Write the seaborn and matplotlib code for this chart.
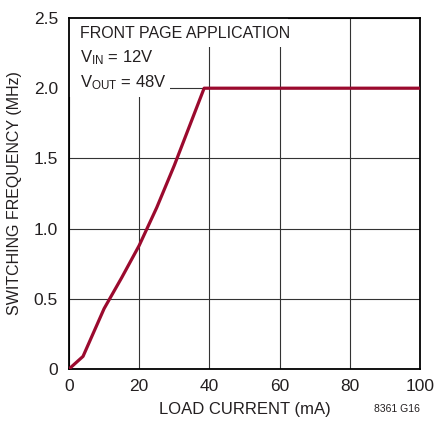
import pandas as pd
import matplotlib
matplotlib.use("Agg")
import matplotlib.pyplot as plt
from matplotlib.patches import Rectangle
import seaborn as sns

# data
load_ma = [0, 4, 10, 15, 20, 25, 30, 38.5, 100]
freq_mhz = [0, 0.09, 0.43, 0.65, 0.88, 1.15, 1.45, 2.0, 2.0]

x_ticks = [0, 20, 40, 60, 80, 100]
y_ticks = [0, 0.5, 1.0, 1.5, 2.0, 2.5]
y_tick_labels = ["0", "0.5", "1.0", "1.5", "2.0", "2.5"]

df = pd.DataFrame({"load": load_ma, "freq": freq_mhz})

sns.set_style("white")
plt.rcParams["font.family"] = ["Liberation Sans", "DejaVu Sans"]
plt.rcParams["mathtext.fontset"] = "custom"
plt.rcParams["mathtext.rm"] = "Liberation Sans"
plt.rcParams["mathtext.it"] = "Liberation Sans"

txt = "#231f20"

fig = plt.figure(figsize=(4.35, 4.36), dpi=100)
ax = fig.add_axes([69 / 435, 67 / 436, 351 / 435, 351 / 436])

sns.lineplot(data=df, x="load", y="freq", ax=ax, color="#9b0a2e",
             linewidth=2.3, zorder=4)

ax.set_xlim(0, 100)
ax.set_ylim(0, 2.5)
ax.set_xticks(x_ticks)
ax.set_yticks(y_ticks)
ax.set_yticklabels(y_tick_labels)
ax.tick_params(length=0, labelsize=12.5, colors=txt)
ax.tick_params(axis="x", pad=7)
ax.tick_params(axis="y", pad=8)
ax.grid(True, color="#333333", linewidth=0.8)
ax.set_axisbelow(True)
for s in ax.spines.values():
    s.set_color("black")
    s.set_linewidth(1.3)

ax.set_xlabel("LOAD CURRENT (mA)", fontsize=12, color=txt, labelpad=6)
ax.set_ylabel("SWITCHING FREQUENCY (MHz)", fontsize=11.5, color=txt, labelpad=8)

# white background behind the note, hiding the grid
ax.add_patch(Rectangle((0, 1.94), 28.8, 0.56, facecolor="white",
                       edgecolor="none", zorder=2))
ax.add_patch(Rectangle((0, 2.29), 62.3, 0.21, facecolor="white",
                       edgecolor="none", zorder=2))

ax.text(3.2, 2.39, "FRONT PAGE APPLICATION", fontsize=11.5, color=txt,
        va="center", ha="left", zorder=3)
ax.text(3.2, 2.215, r"V$_{\mathrm{IN}}$ = 12V", fontsize=12, color=txt,
        va="center", ha="left", zorder=3)
ax.text(3.2, 2.04, r"V$_{\mathrm{OUT}}$ = 48V", fontsize=12, color=txt,
        va="center", ha="left", zorder=3)

fig.text(420 / 435, 1 - 409 / 436, "8361 G16", fontsize=7.5, ha="right",
         va="center", color=txt)

fig.savefig("out.png", dpi=100)
